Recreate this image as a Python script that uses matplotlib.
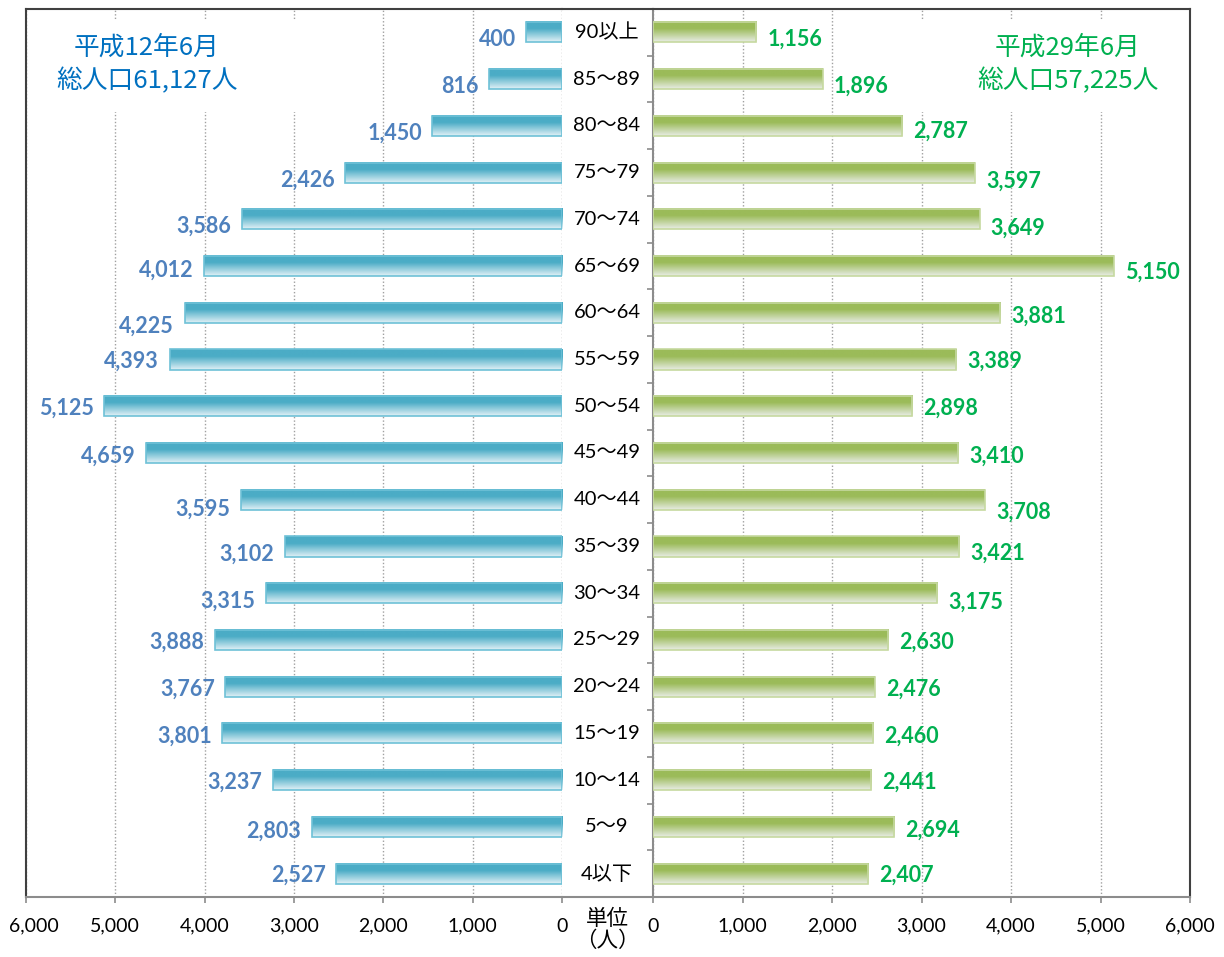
import matplotlib
matplotlib.use('Agg')
import matplotlib.pyplot as plt
import numpy as np
from matplotlib.patches import Rectangle
from matplotlib.lines import Line2D
from matplotlib.transforms import blended_transform_factory, ScaledTranslation

# ---------------- data ----------------
categories = ['90以上', '85〜89', '80〜84', '75〜79', '70〜74', '65〜69', '60〜64',
              '55〜59', '50〜54', '45〜49', '40〜44', '35〜39', '30〜34', '25〜29',
              '20〜24', '15〜19', '10〜14', '5〜9', '4以下']
pop_h12 = [400, 816, 1450, 2426, 3586, 4012, 4225, 4393, 5125, 4659,
           3595, 3102, 3315, 3888, 3767, 3801, 3237, 2803, 2527]
pop_h29 = [1156, 1896, 2787, 3597, 3649, 5150, 3881, 3389, 2898, 3410,
           3708, 3421, 3175, 2630, 2476, 2460, 2441, 2694, 2407]
x_ticks = [0, 1000, 2000, 3000, 4000, 5000, 6000]
title_left = '平成12年6月\n総人口61,127人'
title_right = '平成29年6月\n総人口57,225人'
unit_label = '単位\n（人）'

# label vertical nudges (pixels, downward) – styling only
dy_left = [7, 7, 7, 8, 7, 4, 13, 2, 2, 3, 9, 8, 8, 2, 3, 3, 2, 4, 2]
dy_right = [7, 7, 5, 9, 9, 6, 3, 2, 2, 3, 12, 7, 9, 2, 3, 3, 2, 3, 2]

W, H = 1224, 957
fig = plt.figure(figsize=(W / 100, H / 100), dpi=100)
fig.patch.set_facecolor('white')

num_font = ['Lato', 'DejaVu Sans']
mix_font = ['Lato', 'Noto Sans CJK JP', 'DejaVu Sans']
cjk_font = ['Noto Sans CJK JP', 'DejaVu Sans']

def fx(px):
    return px / W

def fy(py):
    return 1 - py / H

left_px, mid_l, mid_r, right_px = 26, 562, 653, 1190
top_px, bot_px = 9, 897

axL = fig.add_axes([fx(left_px), fy(bot_px), fx(mid_l - left_px), (bot_px - top_px) / H])
axR = fig.add_axes([fx(mid_r), fy(bot_px), fx(right_px - mid_r), (bot_px - top_px) / H])

n = len(categories)
ypos = np.arange(n)[::-1]
bar_h = 0.43

def grad_img(top, bottom, hold=0.35, steps=80):
    t = np.linspace(0, 1, steps)
    f = np.clip((t - hold) / (1 - hold), 0, 1)
    top = np.array(top) / 255.0
    bottom = np.array(bottom) / 255.0
    cols = top[None, :] * (1 - f[:, None]) + bottom[None, :] * f[:, None]
    return cols[:, None, :]

imgL = grad_img((75, 172, 198), (226, 241, 246))
imgR = grad_img((155, 187, 89), (232, 236, 229))

for ax, vals, img, edge in [(axL, pop_h12, imgL, '#6EC1D7'), (axR, pop_h29, imgR, '#C6D9A0')]:
    bars = ax.barh(ypos, vals, height=bar_h, facecolor='none', edgecolor=edge,
                   linewidth=1.2, zorder=4)
    for p in bars.patches:
        x0, y0, w, h = p.get_x(), p.get_y(), p.get_width(), p.get_height()
        ax.imshow(img, extent=[x0, x0 + w, y0, y0 + h], origin='upper',
                  aspect='auto', zorder=3, interpolation='bilinear')

for ax in (axL, axR):
    ax.set_ylim(-0.5, n - 0.5)
    ax.set_xticks(x_ticks)
    ax.set_xticklabels([f'{t:,}' for t in x_ticks], fontsize=14, family=num_font)
    ax.set_axisbelow(True)
    ax.grid(axis='x', linestyle=(0, (1, 1.5)), color='#A0A0A0', linewidth=1.0, zorder=0.5)
    ax.tick_params(axis='x', direction='out', length=4, width=1.2, color='#8C8C8C',
                   pad=11, labelcolor='black')
    ax.spines['bottom'].set_color('#8C8C8C')
    ax.spines['bottom'].set_linewidth(1.5)
    ax.spines['top'].set_color('#404040')
    ax.spines['top'].set_linewidth(1.5)

axL.set_xlim(6000, 0)
axR.set_xlim(0, 6000)

axL.spines['right'].set_visible(False)
axL.spines['left'].set_color('#404040')
axL.spines['left'].set_linewidth(1.5)
axL.set_yticks([])

axR.spines['right'].set_color('#404040')
axR.spines['right'].set_linewidth(1.5)
axR.spines['left'].set_color('#8C8C8C')
axR.spines['left'].set_linewidth(1.5)
axR.set_yticks(np.arange(-0.5, n, 1.0))
axR.set_yticklabels([])
axR.tick_params(axis='y', direction='out', length=4, width=1.2, color='#8C8C8C')

# shift first left tick label (Excel keeps it inside)
for lbl in axL.get_xticklabels():
    if lbl.get_text() == '6,000':
        lbl.set_transform(lbl.get_transform() + ScaledTranslation(8 / 100, 0, fig.dpi_scale_trans))

# bridge lines across the middle gap
fig.add_artist(Line2D([fx(mid_l), fx(mid_r)], [fy(top_px), fy(top_px)],
                      color='#404040', linewidth=1.5, transform=fig.transFigure))
fig.add_artist(Line2D([fx(mid_l), fx(mid_r)], [fy(bot_px), fy(bot_px)],
                      color='#8C8C8C', linewidth=1.5, transform=fig.transFigure))

# data labels
for yi, v, d in zip(ypos, pop_h12, dy_left):
    axL.annotate(f'{v:,}', xy=(v, yi), xytext=(-7.5, -d * 0.72), textcoords='offset points',
                 ha='right', va='center', color='#4F81BD', fontsize=15.5,
                 fontweight='bold', family=num_font, zorder=6)
for yi, v, d in zip(ypos, pop_h29, dy_right):
    axR.annotate(f'{v:,}', xy=(v, yi), xytext=(8, -d * 0.72), textcoords='offset points',
                 ha='left', va='center', color='#00B050', fontsize=15.5,
                 fontweight='bold', family=num_font, zorder=6)

# category labels in the middle
trans = blended_transform_factory(fig.transFigure, axR.transData)
for yi, c in zip(ypos, categories):
    axR.text(fx(607), yi, c, transform=trans, ha='center', va='center',
             fontsize=14.5, family=mix_font, color='black', clip_on=False)

# white boxes behind titles (interrupt gridlines)
axL.add_patch(Rectangle((fx(30), fy(112)), fx(290), (112 - 20) / H,
                        transform=fig.transFigure, facecolor='white', edgecolor='none',
                        zorder=1, clip_on=False))
axR.add_patch(Rectangle((fx(860), fy(112)), fx(325), (112 - 20) / H,
                        transform=fig.transFigure, facecolor='white', edgecolor='none',
                        zorder=1, clip_on=False))

fig.text(fx(147), fy(64.5), title_left, ha='center', va='center', fontsize=18.5,
         color='#0070C0', family=cjk_font, linespacing=1.35)
fig.text(fx(1068), fy(64.5), title_right, ha='center', va='center', fontsize=18.5,
         color='#00B050', family=cjk_font, linespacing=1.35)

fig.text(fx(607), fy(930), unit_label, ha='center', va='center', fontsize=15.5,
         color='black', family=cjk_font, linespacing=1.05)

fig.savefig('out.png', dpi=100, facecolor='white')
